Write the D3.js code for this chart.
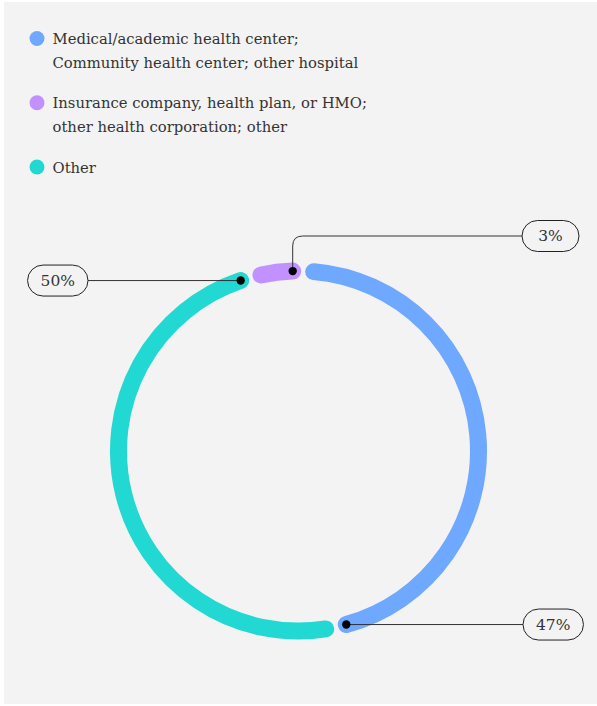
<!DOCTYPE html>
<html>
<head>
<meta charset="utf-8">
<script src="https://cdn.jsdelivr.net/npm/d3@7"></script>
<style>
  html, body { margin: 0; padding: 0; background: #ffffff; }
  svg { display: block; }
  text { font-family: "DejaVu Serif", serif; fill: #333333; }
</style>
</head>
<body>
<svg id="chart" width="597" height="706"></svg>
<script>
// ---- data ----
const categories = [
  "Medical/academic health center; Community health center; other hospital",
  "Insurance company, health plan, or HMO; other health corporation; other",
  "Other"
];
const legendLines = [
  ["Medical/academic health center;", "Community health center; other hospital"],
  ["Insurance company, health plan, or HMO;", "other health corporation; other"],
  ["Other"]
];
const values = [47, 3, 50];
const valueLabels = ["47%", "3%", "50%"];
const colors = ["#6fa8ff", "#c191ff", "#22d8d2"];
// clockwise order around the ring, starting at 12 o'clock
const ringOrder = [0, 2, 1];

// ---- layout ----
const svg = d3.select("#chart");
svg.append("rect").attr("x", 4).attr("y", 2).attr("width", 593).attr("height", 702).attr("fill", "#f3f3f3");

// legend
const legend = svg.append("g");
const legendY = d3.scalePoint().domain(d3.range(categories.length)).range([38.5, 167]);
categories.forEach((c, i) => {
  const g = legend.append("g").attr("transform", `translate(37,${legendY(i)})`);
  g.append("circle").attr("r", 7.5).attr("fill", colors[i]);
  const t = g.append("text").attr("x", 15.5).attr("y", 5.5).style("font-size", "14.8px");
  legendLines[i].forEach((ln, k) => {
    t.append("tspan").attr("x", 15.5).attr("dy", k === 0 ? 0 : 24).text(ln);
  });
});

// ring
const cx = 298.5, cy = 451, radius = 180, strokeW = 17;
const padA = 6.7 * Math.PI / 180;
const startA = 1.5 * Math.PI / 180;
const rows = ringOrder.map(i => ({ i, value: values[i] }));
const pie = d3.pie().value(d => d.value).sort(null)
  .startAngle(startA).endAngle(startA + 2 * Math.PI).padAngle(padA);
const arcs = pie(rows);

const pt = (a, r) => [cx + r * Math.sin(a), cy - r * Math.cos(a)];
const ring = svg.append("g");
arcs.forEach(a => {
  const a0 = a.startAngle + a.padAngle / 2, a1 = a.endAngle - a.padAngle / 2;
  const p = d3.path();
  const s = pt(a0, radius);
  p.moveTo(s[0], s[1]);
  p.arc(cx, cy, radius, a0 - Math.PI / 2, a1 - Math.PI / 2, false);
  ring.append("path").attr("d", p.toString())
    .attr("fill", "none").attr("stroke", colors[a.data.i])
    .attr("stroke-width", strokeW).attr("stroke-linecap", "round");
});

// leaders and value labels
const lab = svg.append("g");
function box(xLeft, yMid, i, anchorRight) {
  const t = lab.append("text").attr("text-anchor", "middle").attr("dy", "0.35em").style("font-size", "15.5px").text(valueLabels[i]);
  const w = Math.max(t.node().getComputedTextLength() + 26, 57), h = 31;
  const x0 = anchorRight ? xLeft - w : xLeft;
  t.attr("x", x0 + w / 2).attr("y", yMid);
  lab.insert("rect", "text").attr("x", x0).attr("y", yMid - h / 2).attr("width", w).attr("height", h)
    .attr("rx", h / 2).attr("fill", "#f3f3f3").attr("stroke", "#222").attr("stroke-width", 1);
}
arcs.forEach(a => {
  const i = a.data.i;
  const a1 = a.endAngle - a.padAngle / 2;
  const [ex, ey] = pt(a1, radius);
  if (i === 0) {
    lab.append("path").attr("d", `M${ex},${ey}H523`).attr("stroke", "#333").attr("fill", "none");
    box(523, ey, i, false);
  } else if (i === 2) {
    lab.append("path").attr("d", `M${ex},${ey}H88`).attr("stroke", "#333").attr("fill", "none");
    box(88, ey, i, true);
  } else {
    const yL = 236, rc = 10;
    lab.append("path").attr("d", `M${ex},${ey}V${yL + rc}Q${ex},${yL} ${ex + rc},${yL}H522`).attr("stroke", "#333").attr("fill", "none");
    box(522, yL, i, false);
  }
  lab.append("circle").attr("cx", ex).attr("cy", ey).attr("r", 4.2).attr("fill", "#000");
});
</script>
</body>
</html>
